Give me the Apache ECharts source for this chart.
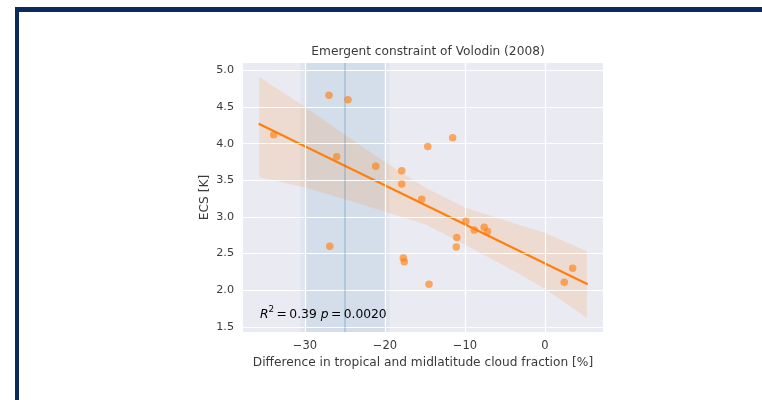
<!DOCTYPE html>
<html><head><meta charset="utf-8">
<script src="https://cdn.jsdelivr.net/npm/echarts@6/dist/echarts.min.js"></script>
<style>html,body{margin:0;padding:0;background:#fff}#c{width:762px;height:400px}</style>
</head><body><div id="c"></div>
<script>
// model points: x = difference in tropical and midlatitude cloud fraction [%], y = ECS [K]
const xValues = [-33.91, -27.0, -24.63, -26.04, -21.16, -17.91, -17.91, -14.66, -11.54, -15.41, -9.9,
                 -8.84, -7.6, -7.19, -11.03, -11.09, -26.91, -17.71, -17.59, -14.5, 2.41, 3.46];
const yValues = [4.12, 4.66, 4.60, 3.82, 3.69, 3.63, 3.45, 3.96, 4.08, 3.24, 2.94,
                 2.82, 2.86, 2.80, 2.72, 2.59, 2.60, 2.44, 2.39, 2.08, 2.11, 2.30];
// regression line end points
const fitX = [-35.79, 5.33];
const fitY = [4.27, 2.08];
// confidence band
const bandX     = [-35.71, -30, -25, -20, -15, -10, -5, 0, 5.25];
const bandUpper = [4.91, 4.50, 4.12, 3.75, 3.40, 3.13, 2.95, 2.78, 2.53];
const bandLower = [3.54, 3.40, 3.24, 3.07, 2.90, 2.62, 2.33, 2.02, 1.62];
// observational constraint
const obsMean = -25.0;
const obsRanges = [[-30.55, -19.43], [-29.95, -20.05]];
// ticks
const xTicks = [-30, -20, -10, 0];
const yTicks = [1.5, 2.0, 2.5, 3.0, 3.5, 4.0, 4.5, 5.0];
const xLimits = [-37.75, 7.25];
const yLimits = [1.43, 5.10];
const r2Text = '0.39';
const pText = '0.0020';
const titleText = 'Emergent constraint of Volodin (2008)';
const xName = 'Difference in tropical and midlatitude cloud fraction [%]';
const yName = 'ECS [K]';

const points = xValues.map((x, i) => [x, yValues[i]]);
const fitData = fitX.map((x, i) => [x, fitY[i]]);
const textColor = '#3a3a3a';
const fontFamily = 'DejaVu Sans';
const ts = '\u2009';

const chart = echarts.init(document.getElementById('c'), null, {renderer: 'canvas'});
chart.setOption({
  animation: false,
  backgroundColor: '#ffffff',
  title: {
    text: titleText, left: 423, top: 41, textAlign: 'center',
    textStyle: {fontFamily, fontSize: 12.2, fontWeight: 'normal', color: textColor}
  },
  grid: {left: 243, right: 159, top: 63, bottom: 68, show: true, backgroundColor: '#eaeaf2', borderWidth: 0},
  xAxis: {
    type: 'value', min: xLimits[0], max: xLimits[1],
    name: xName, nameLocation: 'middle', nameGap: 19,
    nameTextStyle: {fontFamily, fontSize: 12.2, color: textColor},
    axisLine: {show: false}, axisTick: {show: false}, splitLine: {show: false},
    axisLabel: {customValues: xTicks, margin: 8, fontFamily, fontSize: 11.5, color: textColor,
      formatter: v => (v < 0 ? '\u2212' + Math.abs(v) : String(v))}
  },
  yAxis: {
    type: 'value', min: yLimits[0], max: yLimits[1],
    name: yName, nameLocation: 'middle', nameGap: 32, nameRotate: 90,
    nameTextStyle: {fontFamily, fontSize: 12.2, color: textColor},
    axisLine: {show: false}, axisTick: {show: false}, splitLine: {show: false},
    axisLabel: {customValues: yTicks, margin: 9, fontFamily, fontSize: 11.2, color: textColor,
      formatter: v => v.toFixed(1)}
  },
  graphic: [
    {type: 'rect', shape: {x: 15, y: 7, width: 760, height: 5}, style: {fill: '#0b2a5e'}, z: 100},
    {type: 'rect', shape: {x: 15, y: 7, width: 4, height: 400}, style: {fill: '#0b2a5e'}, z: 100},
    {type: 'text', left: 260, top: 305, z: 100,
      style: {
        text: '{i|R}{s|2}{n|' + ts + '=' + ts + r2Text + ' }{i|p}{n|' + ts + '=' + ts + pText + '}',
        rich: {
          i: {fontFamily, fontStyle: 'italic', fontSize: 12.3, color: textColor, lineHeight: 16, verticalAlign: 'bottom'},
          n: {fontFamily, fontSize: 12.3, color: textColor, lineHeight: 16, verticalAlign: 'bottom'},
          s: {fontFamily, fontSize: 8.8, color: textColor, lineHeight: 16, verticalAlign: 'top'}
        }
      }}
  ],
  series: [
    { // grid lines
      type: 'scatter', data: [], z: 1, silent: true,
      markLine: {
        silent: true, symbol: ['none', 'none'], label: {show: false}, animation: false,
        lineStyle: {color: '#ffffff', width: 1.2, type: 'solid'},
        data: xTicks.map(v => ({xAxis: v})).concat(yTicks.map(v => ({yAxis: v})))
      }
    },
    { // obs range
      type: 'scatter', data: [], z: 2, silent: true,
      markArea: {
        silent: true, itemStyle: {color: 'rgba(31,119,180,0.055)'},
        data: obsRanges.map(r => [{xAxis: r[0]}, {xAxis: r[1]}])
      },
      markLine: {
        silent: true, symbol: ['none', 'none'], label: {show: false},
        lineStyle: {color: 'rgba(31,119,180,0.28)', width: 1.5, type: 'solid'},
        data: [{xAxis: obsMean}]
      }
    },
    { // confidence band
      type: 'custom', z: 3, silent: true, clip: true,
      data: [[bandX[0], bandUpper[0]]],
      renderItem: (params, api) => {
        const pts = [];
        for (let i = 0; i < bandX.length; i++) pts.push(api.coord([bandX[i], bandUpper[i]]));
        for (let i = bandX.length - 1; i >= 0; i--) pts.push(api.coord([bandX[i], bandLower[i]]));
        return {type: 'polygon', shape: {points: pts}, style: {fill: 'rgba(255,127,14,0.15)'}};
      }
    },
    { // regression line
      type: 'line', data: fitData, z: 4, symbol: 'none', silent: true,
      lineStyle: {color: '#ff7f0e', width: 2.2}
    },
    { // model points
      type: 'scatter', data: points, z: 5, symbolSize: 7.5,
      itemStyle: {color: 'rgba(255,127,14,0.8)'}
    }
  ]
});
</script></body></html>
